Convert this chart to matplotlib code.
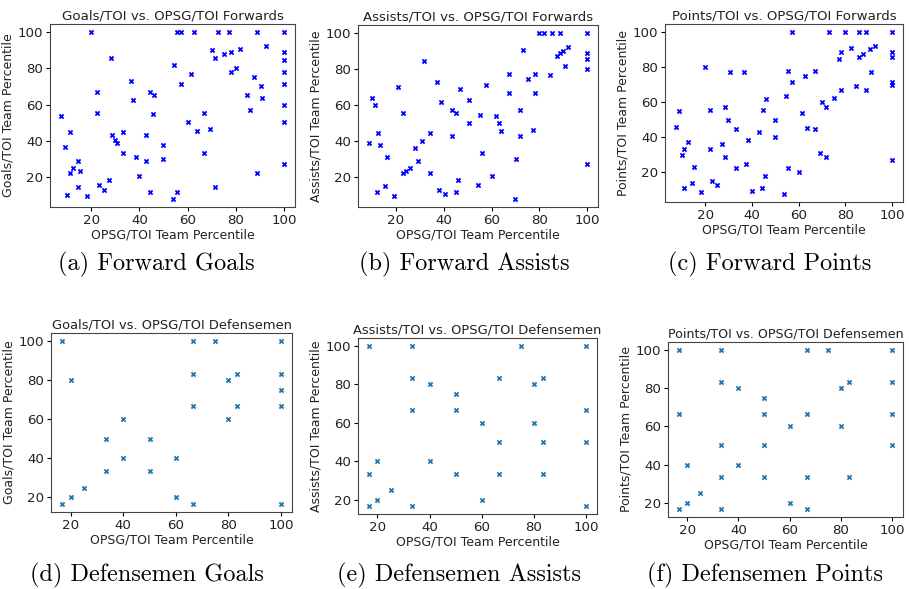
import matplotlib
matplotlib.use("Agg")
import matplotlib.pyplot as plt

# Forwards: goals / TOI percentile vs OPSG / TOI percentile
fwd_goals_x = [20, 28.3, 22.2, 22.2, 7.5, 11.1, 8.9, 14.3, 12.5, 11.1, 15.4, 14.3, 10, 18.2,
               23.2, 25.1, 27.2, 28.5, 29.9, 30.8, 33.3, 33.3, 36.5, 37.5, 38.5, 39.9, 42.8,
               42.8, 44.6, 46.1, 45.6, 44.6, 50, 50, 54.4, 55.6, 57.2, 57.2, 53.9, 55.6, 62.5,
               61.5, 60, 63.8, 66.8, 66.8, 69.3, 70, 71.5, 71.5, 72.8, 75, 77.1, 77.9, 77.9,
               81.9, 80, 87.5, 84.7, 85.8, 89, 90.3, 91.1, 92.5, 89, 100, 100, 100, 100, 100,
               100, 100, 100]
fwd_goals_y = [100, 85.7, 66.9, 55.6, 53.9, 44.6, 36.5, 28.7, 25.2, 22.4, 23.3, 14.6, 10.2, 9.3,
               15.7, 13.0, 18.3, 43.0, 40.4, 38.7, 44.6, 33.3, 73.0, 62.8, 30.9, 20.4, 43.0,
               28.7, 66.9, 65.4, 54.8, 11.5, 37.8, 30, 81.9, 100, 100, 71.5, 8.0, 11.5, 100,
               76.9, 50.2, 45.7, 55.6, 33.3, 46.3, 90.2, 85.7, 14.6, 100, 87.8, 100, 89.1, 77.8,
               90.9, 80, 75.2, 65.4, 57.2, 100, 70.2, 63.9, 92.2, 22.4, 100, 89.1, 84.6, 77.8,
               71.5, 60, 50.2, 27.4]

fwd_assists_x = [8.7, 10.1, 11.2, 12.3, 13.5, 12.1, 15.4, 16.4, 19.3, 21, 23, 23, 24.1, 25.9, 28,
                 29.3, 30.8, 31.6, 34.2, 34.2, 37, 39, 38.2, 40.6, 43.5, 43.5, 45.1, 46.7, 46,
                 45, 50.7, 50.7, 55.1, 54.4, 56.0, 57.7, 60, 61.9, 63, 64.1, 67.2, 67.2, 69.7,
                 70.4, 71.8, 71.8, 73, 75.2, 77.2, 78.1, 78.1, 80, 81.8, 85.5, 88.6, 84.4, 87.2,
                 88.8, 89.9, 92.1, 90.6, 100, 100, 100, 100, 100]
fwd_assists_y = [38.7, 63.7, 60, 44.7, 37.9, 11.6, 14.8, 31.0, 9.3, 70.1, 55.5, 22.4, 23.2, 25.0,
                 36.4, 28.8, 40.2, 84.5, 44.7, 22.4, 72.9, 61.7, 12.9, 10.3, 57.4, 43.0, 55.5,
                 69.2, 18.3, 11.6, 62.6, 50.3, 54.6, 15.7, 33.5, 71.2, 20.4, 53.8, 50.1, 45.8,
                 77.6, 66.7, 7.9, 30.1, 57.2, 43.0, 90.7, 74.8, 46.2, 77.6, 66.7, 100, 100, 100,
                 100, 76.8, 87.5, 89.0, 89.9, 92.1, 81.9, 100, 89, 85.6, 80, 27.5]

fwd_points_x = [7.4, 8.9, 9.9, 11, 12.4, 11, 14.4, 15.3, 18.1, 20, 22, 22, 23, 25, 27, 28.3, 28.3,
                29.8, 30.7, 33.3, 33.3, 36.4, 37.4, 38.4, 39.8, 42.8, 44.5, 46.1, 45.4, 44.4, 50,
                50, 54.4, 55.4, 55.4, 53.8, 57.1, 57.1, 60, 61.4, 62.5, 63.7, 66.8, 66.8, 69.2,
                70.1, 71.5, 71.5, 72.8, 75.1, 77.1, 77.9, 77.9, 80, 82.2, 84.7, 85.9, 85.9, 87.5,
                89, 89, 90.3, 91, 92.5, 100, 100, 100, 100, 100, 100]
fwd_points_y = [46.2, 54.8, 30, 33.2, 37.6, 11.3, 14.3, 23.1, 9.0, 80, 55.5, 33.2, 15.3, 12.8, 36.3,
                57.3, 28.6, 50, 77.1, 44.5, 22.3, 77.3, 25, 38.5, 9.7, 42.9, 55.5, 61.6, 18.1,
                11.1, 50, 40.1, 63.7, 77.9, 22.3, 7.8, 100, 71.4, 20, 53.8, 74.8, 45.6, 77.9,
                44.7, 30.9, 60, 57.3, 28.6, 100, 62.6, 84.5, 88.9, 66.8, 100, 90.8, 69.1, 85.7,
                100, 87.6, 100, 66.8, 90.1, 77.3, 92.2, 100, 88.9, 85.7, 71.4, 70.0, 27.1]

# Defensemen
def_goals_x = [16.7, 16.7, 20, 20, 25, 33.3, 33.3, 40, 40, 50, 50, 60, 60, 66.7, 66.7, 66.7, 66.7,
               75, 80, 80, 83.3, 83.3, 100, 100, 100, 100, 100]
def_goals_y = [100, 16.7, 80, 20, 25, 50, 33.3, 60, 40, 50, 33.3, 40, 20, 100, 83.3, 66.7, 16.7,
               100, 80, 60, 83.3, 66.7, 100, 83.3, 75, 66.7, 16.7]

def_assists_x = [16.7, 16.7, 16.7, 20, 20, 25, 33.3, 33.3, 33.3, 33.3, 40, 40, 50, 50, 50, 60, 60,
                 66.7, 66.7, 66.7, 75, 80, 80, 83.3, 83.3, 83.3, 100, 100, 100, 100]
def_assists_y = [100, 33.3, 16.7, 40, 20, 25, 100, 83.3, 66.7, 16.7, 80, 40, 75, 66.7, 33.3, 60, 20,
                 83.3, 50, 33.3, 100, 80, 60, 83.3, 50, 33.3, 100, 66.7, 50, 16.7]

def_points_x = [16.7, 16.7, 16.7, 20, 20, 25, 33.3, 33.3, 33.3, 33.3, 33.3, 40, 40, 50, 50, 50, 50,
                60, 60, 66.7, 66.7, 66.7, 66.7, 75, 80, 80, 83.3, 83.3, 100, 100, 100, 100]
def_points_y = [100, 66.7, 16.7, 40, 20, 25, 100, 83.3, 50, 33.3, 16.7, 80, 40, 75, 66.7, 50, 33.3,
                60, 20, 100, 66.7, 33.3, 16.7, 100, 80, 60, 83.3, 33.3, 100, 83.3, 66.7, 50]

W, H = 909, 589
fig = plt.figure(figsize=(W / 100, H / 100), dpi=100)

def add_panel(box, x, y, color, title, ylabel, title_size=9.6):
    left, top, right, bottom = box
    ax = fig.add_axes([left / W, 1 - bottom / H, (right - left) / W, (bottom - top) / H])
    ax.scatter(x, y, marker="x", s=9, linewidths=1.3, color=color)
    ax.set_title(title, fontsize=title_size, pad=3, color="#222222")
    ax.set_xlabel("OPSG/TOI Team Percentile", fontsize=9, labelpad=1, color="#222222")
    ax.set_ylabel(ylabel, fontsize=9, labelpad=2, color="#222222")
    ax.set_xticks([20, 40, 60, 80, 100])
    ax.set_yticks([20, 40, 60, 80, 100])
    ax.tick_params(labelsize=9.6, length=3, pad=2, labelcolor="#222222")
    for s in ax.spines.values():
        s.set_color("#444444")
    return ax

add_panel((50, 24, 295, 207), fwd_goals_x, fwd_goals_y, "blue",
          "Goals/TOI vs. OPSG/TOI Forwards", "Goals/TOI Team Percentile")
add_panel((358, 25, 598, 207), fwd_assists_x, fwd_assists_y, "blue",
          "Assists/TOI vs. OPSG/TOI Forwards", "Assists/TOI Team Percentile")
add_panel((665, 24, 903, 202), fwd_points_x, fwd_points_y, "blue",
          "Points/TOI vs. OPSG/TOI Forwards", "Points/TOI Team Percentile")
add_panel((51, 333, 292, 512), def_goals_x, def_goals_y, "tab:blue",
          "Goals/TOI vs. OPSG/TOI Defensemen", "Goals/TOI Team Percentile", 9.4)
add_panel((358, 338, 597, 514), def_assists_x, def_assists_y, "tab:blue",
          "Assists/TOI vs. OPSG/TOI Defensemen", "Assists/TOI Team Percentile", 9.4)
add_panel((668, 342, 903, 517), def_points_x, def_points_y, "tab:blue",
          "Points/TOI vs. OPSG/TOI Defensemen", "Points/TOI Team Percentile", 9.1)

# sub-figure captions
captions = ["(a) Forward Goals", "(b) Forward Assists", "(c) Forward Points",
            "(d) Defensemen Goals", "(e) Defensemen Assists", "(f) Defensemen Points"]
cap_pos = [(156, 264), (464, 264), (770, 264), (147, 575), (459, 575), (765, 575)]
for txt, (cx, cy) in zip(captions, cap_pos):
    fig.text(cx / W, 1 - cy / H, txt, family="cmr10", fontsize=17.5,
             ha="center", va="center")

fig.savefig("out.png", dpi=100)
